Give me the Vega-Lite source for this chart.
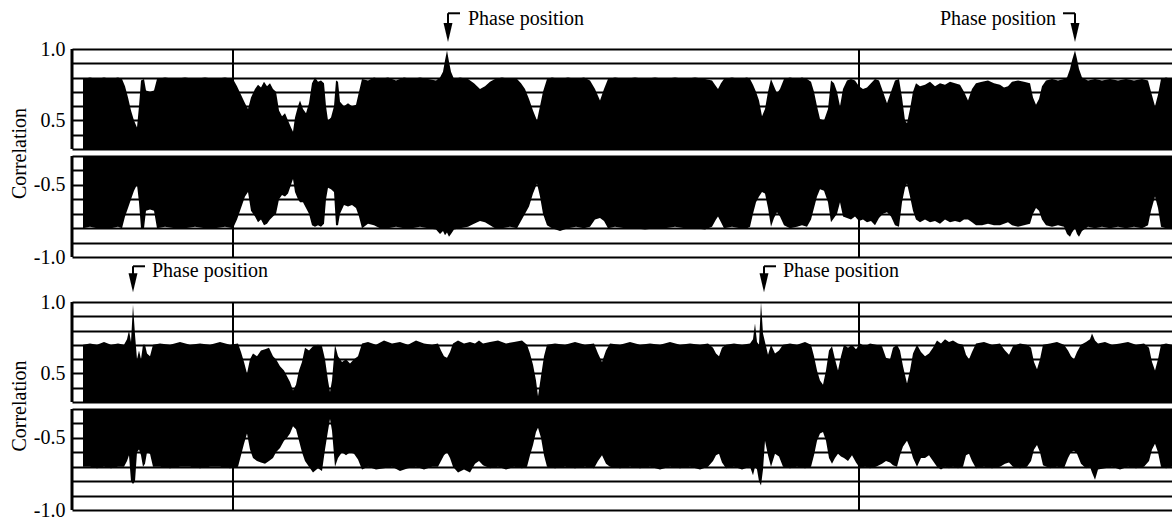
{
  "$schema": "https://vega.github.io/schema/vega-lite/v6.json",
  "padding": {"left": 9, "top": 9, "right": 0, "bottom": 0},
  "background": "white",
  "config": {
    "view": {"stroke": null},
    "font": "Liberation Serif",
    "axis": {
      "labelFont": "Liberation Serif", "labelFontSize": 20, "labelColor": "black", "labelPadding": 7, "labelOverlap": false,
      "grid": true, "gridColor": "black", "gridWidth": 1.8, "gridOpacity": 1,
      "ticks": false, "domain": false,
      "titleFont": "Liberation Serif", "titleFontSize": 20, "titleFontWeight": "normal", "titleColor": "black"
    }
  },
  "datasets": {
    "sig": [
      {"panel":"A","t":83,"hi":0.79,"lo":-0.80},{"panel":"A","t":90,"hi":0.80,"lo":-0.79},{"panel":"A","t":97,"hi":0.79,"lo":-0.80},{"panel":"A","t":104,"hi":0.80,"lo":-0.80},{"panel":"A","t":111,"hi":0.79,"lo":-0.80},{"panel":"A","t":118,"hi":0.80,"lo":-0.79},{"panel":"A","t":122,"hi":0.79,"lo":-0.80},{"panel":"A","t":125,"hi":0.74,"lo":-0.72},{"panel":"A","t":128,"hi":0.66,"lo":-0.66},{"panel":"A","t":131,"hi":0.57,"lo":-0.60},{"panel":"A","t":134,"hi":0.50,"lo":-0.54},{"panel":"A","t":137,"hi":0.45,"lo":-0.50},{"panel":"A","t":139,"hi":0.60,"lo":-0.62},{"panel":"A","t":141,"hi":0.78,"lo":-0.80},{"panel":"A","t":144,"hi":0.79,"lo":-0.80},{"panel":"A","t":146,"hi":0.71,"lo":-0.68},{"panel":"A","t":150,"hi":0.70,"lo":-0.67},{"panel":"A","t":154,"hi":0.71,"lo":-0.68},{"panel":"A","t":157,"hi":0.79,"lo":-0.80},{"panel":"A","t":165,"hi":0.80,"lo":-0.79},{"panel":"A","t":175,"hi":0.79,"lo":-0.80},{"panel":"A","t":185,"hi":0.80,"lo":-0.80},{"panel":"A","t":195,"hi":0.79,"lo":-0.79},{"panel":"A","t":205,"hi":0.80,"lo":-0.80},{"panel":"A","t":215,"hi":0.79,"lo":-0.80},{"panel":"A","t":225,"hi":0.80,"lo":-0.79},{"panel":"A","t":233,"hi":0.79,"lo":-0.80},{"panel":"A","t":237,"hi":0.74,"lo":-0.74},{"panel":"A","t":241,"hi":0.68,"lo":-0.66},{"panel":"A","t":245,"hi":0.62,"lo":-0.58},{"panel":"A","t":248,"hi":0.58,"lo":-0.55},{"panel":"A","t":251,"hi":0.66,"lo":-0.68},{"panel":"A","t":255,"hi":0.72,"lo":-0.72},{"panel":"A","t":258,"hi":0.75,"lo":-0.76},{"panel":"A","t":261,"hi":0.73,"lo":-0.74},{"panel":"A","t":264,"hi":0.77,"lo":-0.78},{"panel":"A","t":267,"hi":0.74,"lo":-0.77},{"panel":"A","t":270,"hi":0.76,"lo":-0.74},{"panel":"A","t":273,"hi":0.72,"lo":-0.72},{"panel":"A","t":276,"hi":0.70,"lo":-0.70},{"panel":"A","t":279,"hi":0.57,"lo":-0.60},{"panel":"A","t":282,"hi":0.53,"lo":-0.57},{"panel":"A","t":285,"hi":0.55,"lo":-0.58},{"panel":"A","t":288,"hi":0.50,"lo":-0.56},{"panel":"A","t":291,"hi":0.45,"lo":-0.50},{"panel":"A","t":293,"hi":0.42,"lo":-0.46},{"panel":"A","t":295,"hi":0.52,"lo":-0.55},{"panel":"A","t":298,"hi":0.60,"lo":-0.60},{"panel":"A","t":300,"hi":0.64,"lo":-0.62},{"panel":"A","t":303,"hi":0.58,"lo":-0.62},{"panel":"A","t":306,"hi":0.55,"lo":-0.66},{"panel":"A","t":309,"hi":0.62,"lo":-0.70},{"panel":"A","t":312,"hi":0.76,"lo":-0.78},{"panel":"A","t":315,"hi":0.80,"lo":-0.79},{"panel":"A","t":318,"hi":0.77,"lo":-0.78},{"panel":"A","t":321,"hi":0.78,"lo":-0.79},{"panel":"A","t":324,"hi":0.76,"lo":-0.77},{"panel":"A","t":326,"hi":0.60,"lo":-0.60},{"panel":"A","t":328,"hi":0.50,"lo":-0.52},{"panel":"A","t":331,"hi":0.52,"lo":-0.53},{"panel":"A","t":334,"hi":0.60,"lo":-0.55},{"panel":"A","t":336,"hi":0.78,"lo":-0.78},{"panel":"A","t":338,"hi":0.77,"lo":-0.78},{"panel":"A","t":340,"hi":0.63,"lo":-0.70},{"panel":"A","t":344,"hi":0.60,"lo":-0.64},{"panel":"A","t":348,"hi":0.62,"lo":-0.65},{"panel":"A","t":352,"hi":0.60,"lo":-0.64},{"panel":"A","t":356,"hi":0.61,"lo":-0.66},{"panel":"A","t":359,"hi":0.70,"lo":-0.72},{"panel":"A","t":362,"hi":0.79,"lo":-0.80},{"panel":"A","t":368,"hi":0.78,"lo":-0.77},{"panel":"A","t":374,"hi":0.80,"lo":-0.78},{"panel":"A","t":380,"hi":0.79,"lo":-0.80},{"panel":"A","t":388,"hi":0.80,"lo":-0.80},{"panel":"A","t":396,"hi":0.78,"lo":-0.79},{"panel":"A","t":404,"hi":0.80,"lo":-0.80},{"panel":"A","t":412,"hi":0.79,"lo":-0.80},{"panel":"A","t":420,"hi":0.80,"lo":-0.79},{"panel":"A","t":428,"hi":0.79,"lo":-0.80},{"panel":"A","t":436,"hi":0.78,"lo":-0.81},{"panel":"A","t":440,"hi":0.80,"lo":-0.84},{"panel":"A","t":443,"hi":0.84,"lo":-0.82},{"panel":"A","t":445,"hi":0.92,"lo":-0.85},{"panel":"A","t":447,"hi":0.99,"lo":-0.83},{"panel":"A","t":449,"hi":0.91,"lo":-0.86},{"panel":"A","t":451,"hi":0.84,"lo":-0.84},{"panel":"A","t":454,"hi":0.79,"lo":-0.81},{"panel":"A","t":460,"hi":0.80,"lo":-0.80},{"panel":"A","t":468,"hi":0.79,"lo":-0.79},{"panel":"A","t":474,"hi":0.76,"lo":-0.77},{"panel":"A","t":480,"hi":0.72,"lo":-0.75},{"panel":"A","t":485,"hi":0.74,"lo":-0.76},{"panel":"A","t":490,"hi":0.77,"lo":-0.78},{"panel":"A","t":495,"hi":0.79,"lo":-0.80},{"panel":"A","t":502,"hi":0.80,"lo":-0.80},{"panel":"A","t":510,"hi":0.79,"lo":-0.79},{"panel":"A","t":517,"hi":0.79,"lo":-0.80},{"panel":"A","t":521,"hi":0.76,"lo":-0.75},{"panel":"A","t":525,"hi":0.72,"lo":-0.70},{"panel":"A","t":529,"hi":0.65,"lo":-0.65},{"panel":"A","t":533,"hi":0.57,"lo":-0.56},{"panel":"A","t":537,"hi":0.50,"lo":-0.49},{"panel":"A","t":540,"hi":0.60,"lo":-0.58},{"panel":"A","t":543,"hi":0.70,"lo":-0.70},{"panel":"A","t":547,"hi":0.79,"lo":-0.78},{"panel":"A","t":552,"hi":0.80,"lo":-0.80},{"panel":"A","t":560,"hi":0.79,"lo":-0.82},{"panel":"A","t":568,"hi":0.80,"lo":-0.80},{"panel":"A","t":576,"hi":0.79,"lo":-0.79},{"panel":"A","t":584,"hi":0.80,"lo":-0.80},{"panel":"A","t":590,"hi":0.78,"lo":-0.79},{"panel":"A","t":595,"hi":0.72,"lo":-0.74},{"panel":"A","t":600,"hi":0.64,"lo":-0.73},{"panel":"A","t":604,"hi":0.72,"lo":-0.75},{"panel":"A","t":608,"hi":0.79,"lo":-0.80},{"panel":"A","t":615,"hi":0.80,"lo":-0.79},{"panel":"A","t":625,"hi":0.79,"lo":-0.80},{"panel":"A","t":635,"hi":0.80,"lo":-0.80},{"panel":"A","t":645,"hi":0.79,"lo":-0.81},{"panel":"A","t":655,"hi":0.80,"lo":-0.80},{"panel":"A","t":665,"hi":0.79,"lo":-0.80},{"panel":"A","t":675,"hi":0.80,"lo":-0.79},{"panel":"A","t":685,"hi":0.79,"lo":-0.80},{"panel":"A","t":695,"hi":0.80,"lo":-0.80},{"panel":"A","t":705,"hi":0.79,"lo":-0.81},{"panel":"A","t":712,"hi":0.78,"lo":-0.79},{"panel":"A","t":716,"hi":0.74,"lo":-0.74},{"panel":"A","t":718,"hi":0.72,"lo":-0.72},{"panel":"A","t":721,"hi":0.76,"lo":-0.76},{"panel":"A","t":724,"hi":0.79,"lo":-0.80},{"panel":"A","t":732,"hi":0.80,"lo":-0.79},{"panel":"A","t":740,"hi":0.79,"lo":-0.80},{"panel":"A","t":747,"hi":0.80,"lo":-0.80},{"panel":"A","t":750,"hi":0.79,"lo":-0.79},{"panel":"A","t":753,"hi":0.75,"lo":-0.70},{"panel":"A","t":756,"hi":0.70,"lo":-0.62},{"panel":"A","t":759,"hi":0.64,"lo":-0.58},{"panel":"A","t":762,"hi":0.53,"lo":-0.55},{"panel":"A","t":765,"hi":0.58,"lo":-0.56},{"panel":"A","t":768,"hi":0.70,"lo":-0.66},{"panel":"A","t":771,"hi":0.79,"lo":-0.79},{"panel":"A","t":774,"hi":0.74,"lo":-0.73},{"panel":"A","t":777,"hi":0.69,"lo":-0.69},{"panel":"A","t":780,"hi":0.72,"lo":-0.72},{"panel":"A","t":784,"hi":0.79,"lo":-0.78},{"panel":"A","t":790,"hi":0.80,"lo":-0.80},{"panel":"A","t":797,"hi":0.79,"lo":-0.79},{"panel":"A","t":802,"hi":0.80,"lo":-0.78},{"panel":"A","t":807,"hi":0.79,"lo":-0.79},{"panel":"A","t":811,"hi":0.77,"lo":-0.74},{"panel":"A","t":814,"hi":0.70,"lo":-0.66},{"panel":"A","t":817,"hi":0.60,"lo":-0.58},{"panel":"A","t":820,"hi":0.51,"lo":-0.53},{"panel":"A","t":824,"hi":0.50,"lo":-0.54},{"panel":"A","t":828,"hi":0.58,"lo":-0.62},{"panel":"A","t":831,"hi":0.78,"lo":-0.76},{"panel":"A","t":834,"hi":0.76,"lo":-0.73},{"panel":"A","t":837,"hi":0.70,"lo":-0.70},{"panel":"A","t":840,"hi":0.60,"lo":-0.62},{"panel":"A","t":843,"hi":0.72,"lo":-0.72},{"panel":"A","t":847,"hi":0.78,"lo":-0.73},{"panel":"A","t":851,"hi":0.79,"lo":-0.74},{"panel":"A","t":855,"hi":0.78,"lo":-0.72},{"panel":"A","t":859,"hi":0.74,"lo":-0.75},{"panel":"A","t":863,"hi":0.72,"lo":-0.74},{"panel":"A","t":867,"hi":0.73,"lo":-0.76},{"panel":"A","t":871,"hi":0.76,"lo":-0.75},{"panel":"A","t":875,"hi":0.79,"lo":-0.78},{"panel":"A","t":879,"hi":0.78,"lo":-0.73},{"panel":"A","t":883,"hi":0.70,"lo":-0.70},{"panel":"A","t":887,"hi":0.62,"lo":-0.69},{"panel":"A","t":891,"hi":0.70,"lo":-0.72},{"panel":"A","t":895,"hi":0.78,"lo":-0.78},{"panel":"A","t":899,"hi":0.79,"lo":-0.79},{"panel":"A","t":902,"hi":0.66,"lo":-0.62},{"panel":"A","t":905,"hi":0.50,"lo":-0.52},{"panel":"A","t":907,"hi":0.48,"lo":-0.49},{"panel":"A","t":910,"hi":0.58,"lo":-0.58},{"panel":"A","t":913,"hi":0.70,"lo":-0.68},{"panel":"A","t":916,"hi":0.76,"lo":-0.74},{"panel":"A","t":920,"hi":0.74,"lo":-0.76},{"panel":"A","t":925,"hi":0.75,"lo":-0.74},{"panel":"A","t":930,"hi":0.77,"lo":-0.76},{"panel":"A","t":935,"hi":0.74,"lo":-0.75},{"panel":"A","t":940,"hi":0.76,"lo":-0.77},{"panel":"A","t":945,"hi":0.75,"lo":-0.74},{"panel":"A","t":950,"hi":0.77,"lo":-0.76},{"panel":"A","t":955,"hi":0.76,"lo":-0.75},{"panel":"A","t":960,"hi":0.75,"lo":-0.76},{"panel":"A","t":964,"hi":0.70,"lo":-0.74},{"panel":"A","t":968,"hi":0.64,"lo":-0.74},{"panel":"A","t":972,"hi":0.72,"lo":-0.76},{"panel":"A","t":976,"hi":0.76,"lo":-0.78},{"panel":"A","t":982,"hi":0.77,"lo":-0.78},{"panel":"A","t":988,"hi":0.78,"lo":-0.77},{"panel":"A","t":994,"hi":0.76,"lo":-0.78},{"panel":"A","t":1000,"hi":0.75,"lo":-0.78},{"panel":"A","t":1004,"hi":0.73,"lo":-0.77},{"panel":"A","t":1008,"hi":0.74,"lo":-0.76},{"panel":"A","t":1012,"hi":0.77,"lo":-0.78},{"panel":"A","t":1018,"hi":0.78,"lo":-0.79},{"panel":"A","t":1024,"hi":0.77,"lo":-0.78},{"panel":"A","t":1030,"hi":0.76,"lo":-0.77},{"panel":"A","t":1033,"hi":0.66,"lo":-0.70},{"panel":"A","t":1036,"hi":0.61,"lo":-0.66},{"panel":"A","t":1039,"hi":0.65,"lo":-0.68},{"panel":"A","t":1042,"hi":0.74,"lo":-0.74},{"panel":"A","t":1046,"hi":0.78,"lo":-0.78},{"panel":"A","t":1052,"hi":0.79,"lo":-0.79},{"panel":"A","t":1058,"hi":0.78,"lo":-0.78},{"panel":"A","t":1064,"hi":0.79,"lo":-0.79},{"panel":"A","t":1067,"hi":0.80,"lo":-0.84},{"panel":"A","t":1070,"hi":0.86,"lo":-0.86},{"panel":"A","t":1072,"hi":0.92,"lo":-0.83},{"panel":"A","t":1075,"hi":0.99,"lo":-0.80},{"panel":"A","t":1077,"hi":0.93,"lo":-0.84},{"panel":"A","t":1079,"hi":0.86,"lo":-0.86},{"panel":"A","t":1082,"hi":0.80,"lo":-0.82},{"panel":"A","t":1088,"hi":0.78,"lo":-0.79},{"panel":"A","t":1095,"hi":0.79,"lo":-0.80},{"panel":"A","t":1102,"hi":0.78,"lo":-0.79},{"panel":"A","t":1110,"hi":0.79,"lo":-0.80},{"panel":"A","t":1118,"hi":0.78,"lo":-0.79},{"panel":"A","t":1126,"hi":0.79,"lo":-0.80},{"panel":"A","t":1134,"hi":0.78,"lo":-0.79},{"panel":"A","t":1142,"hi":0.79,"lo":-0.80},{"panel":"A","t":1148,"hi":0.78,"lo":-0.78},{"panel":"A","t":1151,"hi":0.70,"lo":-0.68},{"panel":"A","t":1155,"hi":0.60,"lo":-0.58},{"panel":"A","t":1158,"hi":0.68,"lo":-0.66},{"panel":"A","t":1161,"hi":0.79,"lo":-0.79},{"panel":"A","t":1166,"hi":0.80,"lo":-0.80},{"panel":"A","t":1172,"hi":0.79,"lo":-0.80},

      {"panel":"B","t":83,"hi":0.70,"lo":-0.70},{"panel":"B","t":90,"hi":0.71,"lo":-0.70},{"panel":"B","t":97,"hi":0.70,"lo":-0.71},{"panel":"B","t":104,"hi":0.72,"lo":-0.70},{"panel":"B","t":111,"hi":0.70,"lo":-0.71},{"panel":"B","t":118,"hi":0.71,"lo":-0.70},{"panel":"B","t":124,"hi":0.70,"lo":-0.70},{"panel":"B","t":127,"hi":0.74,"lo":-0.66},{"panel":"B","t":129,"hi":0.80,"lo":-0.62},{"panel":"B","t":131,"hi":0.72,"lo":-0.80},{"panel":"B","t":133,"hi":0.98,"lo":-0.82},{"panel":"B","t":135,"hi":0.77,"lo":-0.80},{"panel":"B","t":137,"hi":0.60,"lo":-0.60},{"panel":"B","t":139,"hi":0.66,"lo":-0.58},{"panel":"B","t":141,"hi":0.60,"lo":-0.62},{"panel":"B","t":143,"hi":0.70,"lo":-0.70},{"panel":"B","t":145,"hi":0.70,"lo":-0.68},{"panel":"B","t":147,"hi":0.64,"lo":-0.60},{"panel":"B","t":150,"hi":0.62,"lo":-0.61},{"panel":"B","t":153,"hi":0.70,"lo":-0.70},{"panel":"B","t":160,"hi":0.71,"lo":-0.70},{"panel":"B","t":170,"hi":0.70,"lo":-0.71},{"panel":"B","t":180,"hi":0.72,"lo":-0.70},{"panel":"B","t":190,"hi":0.70,"lo":-0.70},{"panel":"B","t":200,"hi":0.71,"lo":-0.71},{"panel":"B","t":210,"hi":0.70,"lo":-0.70},{"panel":"B","t":220,"hi":0.72,"lo":-0.70},{"panel":"B","t":230,"hi":0.70,"lo":-0.71},{"panel":"B","t":238,"hi":0.71,"lo":-0.70},{"panel":"B","t":241,"hi":0.65,"lo":-0.62},{"panel":"B","t":244,"hi":0.58,"lo":-0.54},{"panel":"B","t":247,"hi":0.50,"lo":-0.47},{"panel":"B","t":250,"hi":0.60,"lo":-0.58},{"panel":"B","t":253,"hi":0.64,"lo":-0.64},{"panel":"B","t":257,"hi":0.62,"lo":-0.66},{"panel":"B","t":261,"hi":0.66,"lo":-0.67},{"panel":"B","t":265,"hi":0.67,"lo":-0.68},{"panel":"B","t":269,"hi":0.68,"lo":-0.66},{"panel":"B","t":273,"hi":0.62,"lo":-0.64},{"panel":"B","t":276,"hi":0.60,"lo":-0.60},{"panel":"B","t":280,"hi":0.55,"lo":-0.57},{"panel":"B","t":284,"hi":0.52,"lo":-0.52},{"panel":"B","t":287,"hi":0.48,"lo":-0.50},{"panel":"B","t":290,"hi":0.44,"lo":-0.47},{"panel":"B","t":293,"hi":0.38,"lo":-0.42},{"panel":"B","t":296,"hi":0.42,"lo":-0.44},{"panel":"B","t":299,"hi":0.52,"lo":-0.52},{"panel":"B","t":302,"hi":0.58,"lo":-0.60},{"panel":"B","t":305,"hi":0.68,"lo":-0.66},{"panel":"B","t":309,"hi":0.66,"lo":-0.70},{"panel":"B","t":313,"hi":0.69,"lo":-0.74},{"panel":"B","t":318,"hi":0.70,"lo":-0.71},{"panel":"B","t":322,"hi":0.69,"lo":-0.73},{"panel":"B","t":325,"hi":0.60,"lo":-0.58},{"panel":"B","t":328,"hi":0.45,"lo":-0.45},{"panel":"B","t":330,"hi":0.37,"lo":-0.37},{"panel":"B","t":332,"hi":0.45,"lo":-0.45},{"panel":"B","t":335,"hi":0.70,"lo":-0.70},{"panel":"B","t":338,"hi":0.62,"lo":-0.64},{"panel":"B","t":342,"hi":0.58,"lo":-0.60},{"panel":"B","t":346,"hi":0.60,"lo":-0.62},{"panel":"B","t":350,"hi":0.57,"lo":-0.60},{"panel":"B","t":354,"hi":0.60,"lo":-0.61},{"panel":"B","t":358,"hi":0.62,"lo":-0.65},{"panel":"B","t":362,"hi":0.71,"lo":-0.72},{"panel":"B","t":368,"hi":0.72,"lo":-0.70},{"panel":"B","t":376,"hi":0.70,"lo":-0.72},{"panel":"B","t":384,"hi":0.73,"lo":-0.71},{"panel":"B","t":392,"hi":0.71,"lo":-0.70},{"panel":"B","t":400,"hi":0.72,"lo":-0.73},{"panel":"B","t":408,"hi":0.70,"lo":-0.71},{"panel":"B","t":416,"hi":0.73,"lo":-0.70},{"panel":"B","t":424,"hi":0.71,"lo":-0.72},{"panel":"B","t":432,"hi":0.70,"lo":-0.70},{"panel":"B","t":438,"hi":0.71,"lo":-0.70},{"panel":"B","t":441,"hi":0.66,"lo":-0.66},{"panel":"B","t":444,"hi":0.62,"lo":-0.62},{"panel":"B","t":447,"hi":0.61,"lo":-0.60},{"panel":"B","t":450,"hi":0.65,"lo":-0.64},{"panel":"B","t":453,"hi":0.71,"lo":-0.70},{"panel":"B","t":458,"hi":0.73,"lo":-0.74},{"panel":"B","t":464,"hi":0.71,"lo":-0.72},{"panel":"B","t":470,"hi":0.72,"lo":-0.74},{"panel":"B","t":475,"hi":0.71,"lo":-0.68},{"panel":"B","t":479,"hi":0.73,"lo":-0.66},{"panel":"B","t":483,"hi":0.71,"lo":-0.69},{"panel":"B","t":490,"hi":0.72,"lo":-0.71},{"panel":"B","t":498,"hi":0.73,"lo":-0.70},{"panel":"B","t":506,"hi":0.71,"lo":-0.72},{"panel":"B","t":514,"hi":0.72,"lo":-0.70},{"panel":"B","t":522,"hi":0.73,"lo":-0.71},{"panel":"B","t":527,"hi":0.70,"lo":-0.70},{"panel":"B","t":530,"hi":0.64,"lo":-0.62},{"panel":"B","t":533,"hi":0.56,"lo":-0.55},{"panel":"B","t":536,"hi":0.45,"lo":-0.46},{"panel":"B","t":538,"hi":0.34,"lo":-0.43},{"panel":"B","t":541,"hi":0.48,"lo":-0.50},{"panel":"B","t":544,"hi":0.62,"lo":-0.62},{"panel":"B","t":547,"hi":0.70,"lo":-0.70},{"panel":"B","t":555,"hi":0.71,"lo":-0.71},{"panel":"B","t":565,"hi":0.70,"lo":-0.70},{"panel":"B","t":575,"hi":0.72,"lo":-0.71},{"panel":"B","t":585,"hi":0.70,"lo":-0.70},{"panel":"B","t":594,"hi":0.71,"lo":-0.71},{"panel":"B","t":598,"hi":0.64,"lo":-0.66},{"panel":"B","t":602,"hi":0.58,"lo":-0.62},{"panel":"B","t":606,"hi":0.66,"lo":-0.68},{"panel":"B","t":610,"hi":0.71,"lo":-0.70},{"panel":"B","t":620,"hi":0.70,"lo":-0.71},{"panel":"B","t":630,"hi":0.72,"lo":-0.70},{"panel":"B","t":640,"hi":0.70,"lo":-0.71},{"panel":"B","t":650,"hi":0.71,"lo":-0.70},{"panel":"B","t":660,"hi":0.70,"lo":-0.72},{"panel":"B","t":670,"hi":0.72,"lo":-0.70},{"panel":"B","t":680,"hi":0.70,"lo":-0.71},{"panel":"B","t":690,"hi":0.71,"lo":-0.70},{"panel":"B","t":700,"hi":0.70,"lo":-0.72},{"panel":"B","t":708,"hi":0.71,"lo":-0.70},{"panel":"B","t":713,"hi":0.68,"lo":-0.66},{"panel":"B","t":716,"hi":0.64,"lo":-0.62},{"panel":"B","t":719,"hi":0.62,"lo":-0.61},{"panel":"B","t":722,"hi":0.68,"lo":-0.67},{"panel":"B","t":726,"hi":0.70,"lo":-0.71},{"panel":"B","t":734,"hi":0.71,"lo":-0.70},{"panel":"B","t":742,"hi":0.70,"lo":-0.72},{"panel":"B","t":750,"hi":0.71,"lo":-0.70},{"panel":"B","t":753,"hi":0.74,"lo":-0.76},{"panel":"B","t":755,"hi":0.85,"lo":-0.70},{"panel":"B","t":757,"hi":0.72,"lo":-0.72},{"panel":"B","t":759,"hi":0.70,"lo":-0.80},{"panel":"B","t":761,"hi":1.00,"lo":-0.83},{"panel":"B","t":763,"hi":0.78,"lo":-0.72},{"panel":"B","t":765,"hi":0.72,"lo":-0.52},{"panel":"B","t":768,"hi":0.63,"lo":-0.62},{"panel":"B","t":771,"hi":0.70,"lo":-0.70},{"panel":"B","t":775,"hi":0.64,"lo":-0.61},{"panel":"B","t":779,"hi":0.66,"lo":-0.63},{"panel":"B","t":783,"hi":0.70,"lo":-0.70},{"panel":"B","t":790,"hi":0.71,"lo":-0.71},{"panel":"B","t":797,"hi":0.70,"lo":-0.70},{"panel":"B","t":805,"hi":0.72,"lo":-0.71},{"panel":"B","t":811,"hi":0.70,"lo":-0.70},{"panel":"B","t":814,"hi":0.62,"lo":-0.62},{"panel":"B","t":817,"hi":0.52,"lo":-0.52},{"panel":"B","t":820,"hi":0.45,"lo":-0.47},{"panel":"B","t":823,"hi":0.42,"lo":-0.46},{"panel":"B","t":826,"hi":0.52,"lo":-0.52},{"panel":"B","t":829,"hi":0.66,"lo":-0.64},{"panel":"B","t":832,"hi":0.69,"lo":-0.68},{"panel":"B","t":835,"hi":0.60,"lo":-0.64},{"panel":"B","t":838,"hi":0.52,"lo":-0.61},{"panel":"B","t":841,"hi":0.62,"lo":-0.63},{"panel":"B","t":844,"hi":0.70,"lo":-0.64},{"panel":"B","t":848,"hi":0.68,"lo":-0.66},{"panel":"B","t":852,"hi":0.70,"lo":-0.62},{"panel":"B","t":856,"hi":0.67,"lo":-0.67},{"panel":"B","t":860,"hi":0.71,"lo":-0.71},{"panel":"B","t":865,"hi":0.69,"lo":-0.70},{"panel":"B","t":870,"hi":0.71,"lo":-0.71},{"panel":"B","t":876,"hi":0.70,"lo":-0.70},{"panel":"B","t":882,"hi":0.69,"lo":-0.68},{"panel":"B","t":886,"hi":0.61,"lo":-0.66},{"panel":"B","t":890,"hi":0.60,"lo":-0.67},{"panel":"B","t":893,"hi":0.68,"lo":-0.69},{"panel":"B","t":897,"hi":0.70,"lo":-0.70},{"panel":"B","t":900,"hi":0.66,"lo":-0.62},{"panel":"B","t":903,"hi":0.55,"lo":-0.56},{"panel":"B","t":907,"hi":0.43,"lo":-0.52},{"panel":"B","t":910,"hi":0.52,"lo":-0.57},{"panel":"B","t":913,"hi":0.64,"lo":-0.64},{"panel":"B","t":917,"hi":0.70,"lo":-0.70},{"panel":"B","t":921,"hi":0.65,"lo":-0.64},{"panel":"B","t":925,"hi":0.62,"lo":-0.64},{"panel":"B","t":929,"hi":0.64,"lo":-0.62},{"panel":"B","t":933,"hi":0.68,"lo":-0.66},{"panel":"B","t":937,"hi":0.73,"lo":-0.70},{"panel":"B","t":941,"hi":0.71,"lo":-0.72},{"panel":"B","t":945,"hi":0.74,"lo":-0.70},{"panel":"B","t":949,"hi":0.72,"lo":-0.71},{"panel":"B","t":953,"hi":0.73,"lo":-0.70},{"panel":"B","t":958,"hi":0.71,"lo":-0.71},{"panel":"B","t":963,"hi":0.70,"lo":-0.70},{"panel":"B","t":966,"hi":0.63,"lo":-0.62},{"panel":"B","t":969,"hi":0.60,"lo":-0.61},{"panel":"B","t":972,"hi":0.65,"lo":-0.66},{"panel":"B","t":976,"hi":0.71,"lo":-0.71},{"panel":"B","t":984,"hi":0.72,"lo":-0.70},{"panel":"B","t":992,"hi":0.70,"lo":-0.71},{"panel":"B","t":1000,"hi":0.71,"lo":-0.70},{"panel":"B","t":1005,"hi":0.66,"lo":-0.68},{"panel":"B","t":1009,"hi":0.63,"lo":-0.67},{"panel":"B","t":1013,"hi":0.69,"lo":-0.70},{"panel":"B","t":1020,"hi":0.71,"lo":-0.71},{"panel":"B","t":1027,"hi":0.70,"lo":-0.70},{"panel":"B","t":1031,"hi":0.68,"lo":-0.66},{"panel":"B","t":1034,"hi":0.58,"lo":-0.58},{"panel":"B","t":1037,"hi":0.53,"lo":-0.55},{"panel":"B","t":1040,"hi":0.60,"lo":-0.60},{"panel":"B","t":1043,"hi":0.70,"lo":-0.69},{"panel":"B","t":1050,"hi":0.71,"lo":-0.71},{"panel":"B","t":1057,"hi":0.72,"lo":-0.70},{"panel":"B","t":1064,"hi":0.70,"lo":-0.71},{"panel":"B","t":1068,"hi":0.66,"lo":-0.64},{"panel":"B","t":1071,"hi":0.62,"lo":-0.60},{"panel":"B","t":1074,"hi":0.60,"lo":-0.59},{"panel":"B","t":1077,"hi":0.65,"lo":-0.61},{"panel":"B","t":1081,"hi":0.70,"lo":-0.68},{"panel":"B","t":1086,"hi":0.72,"lo":-0.71},{"panel":"B","t":1090,"hi":0.74,"lo":-0.70},{"panel":"B","t":1092,"hi":0.78,"lo":-0.74},{"panel":"B","t":1095,"hi":0.73,"lo":-0.79},{"panel":"B","t":1098,"hi":0.71,"lo":-0.72},{"panel":"B","t":1105,"hi":0.72,"lo":-0.71},{"panel":"B","t":1112,"hi":0.70,"lo":-0.70},{"panel":"B","t":1120,"hi":0.71,"lo":-0.72},{"panel":"B","t":1128,"hi":0.72,"lo":-0.70},{"panel":"B","t":1136,"hi":0.70,"lo":-0.71},{"panel":"B","t":1144,"hi":0.71,"lo":-0.70},{"panel":"B","t":1149,"hi":0.68,"lo":-0.66},{"panel":"B","t":1152,"hi":0.58,"lo":-0.58},{"panel":"B","t":1155,"hi":0.52,"lo":-0.54},{"panel":"B","t":1158,"hi":0.60,"lo":-0.60},{"panel":"B","t":1161,"hi":0.70,"lo":-0.70},{"panel":"B","t":1166,"hi":0.71,"lo":-0.71},{"panel":"B","t":1172,"hi":0.70,"lo":-0.70}
    ],
    "frames": [{"t": 233}, {"t": 859}],
    "ann": [
      {"panel": "A", "t": 448, "tb": 460, "tx": 468, "label": "Phase position"},
      {"panel": "A", "t": 1075, "tb": 1063, "tx": 940, "label": "Phase position"},
      {"panel": "B", "t": 133, "tb": 145, "tx": 152, "label": "Phase position"},
      {"panel": "B", "t": 764, "tb": 776, "tx": 783, "label": "Phase position"}
    ]
  },
  "spacing": 7,
  "bounds": "flush",
  "vconcat": [
    {
      "width": 1100, "height": 100,
      "layer": [
        {
          "data": {"name": "sig"},
          "transform": [{"filter": "datum.panel === 'A'"}],
          "mark": {"type": "area", "color": "black", "clip": true},
          "encoding": {
            "x": {"field": "t", "type": "quantitative", "scale": {"domain": [72, 1172], "nice": false, "zero": false}, "axis": null},
            "y": {"field": "hi", "type": "quantitative", "scale": {"domain": [0.3, 1.0], "nice": false, "zero": false},
              "axis": {"values": [0.3, 0.4, 0.5, 0.6, 0.7, 0.8, 0.9, 1.0], "tickCount": 50, "labelExpr": "datum.value == 1 ? '1.0' : datum.value == 0.5 ? '0.5' : ''",
                "title": "Correlation", "titleX": -47, "titleY": 104, "titleAngle": 270, "titleAlign": "center", "titleBaseline": "alphabetic"}},
            "y2": {"datum": 0.3}
          }
        },
        {
          "data": {"name": "frames"},
          "mark": {"type": "rule", "color": "black", "strokeWidth": 2},
          "encoding": {"x": {"field": "t", "type": "quantitative"}}
        },
        {
          "data": {"values": [{"x0": 72}]},
          "mark": {"type": "rule", "color": "black", "strokeWidth": 3, "clip": false},
          "encoding": {"x": {"field": "x0", "type": "quantitative"}, "y": {"datum": 1.0}, "y2": {"datum": 0.3}}
        },
        {
          "data": {"name": "ann"},
          "transform": [{"filter": "datum.panel === 'A'"}],
          "mark": {"type": "rule", "color": "black", "strokeWidth": 2, "clip": false},
          "encoding": {"x": {"field": "t", "type": "quantitative"}, "y": {"datum": 1.25}, "y2": {"datum": 1.12}}
        },
        {
          "data": {"name": "ann"},
          "transform": [{"filter": "datum.panel === 'A'"}],
          "mark": {"type": "rule", "color": "black", "strokeWidth": 2, "clip": false},
          "encoding": {"x": {"field": "t", "type": "quantitative"}, "x2": {"field": "tb"}, "y": {"datum": 1.25}}
        },
        {
          "data": {"name": "ann"},
          "transform": [{"filter": "datum.panel === 'A'"}],
          "mark": {"type": "point", "shape": "M-0.47,-1L0.47,-1L0,1Z", "filled": true, "color": "black", "opacity": 1, "size": 361, "clip": false},
          "encoding": {"x": {"field": "t", "type": "quantitative"}, "y": {"datum": 1.115}}
        },
        {
          "data": {"name": "ann"},
          "transform": [{"filter": "datum.panel === 'A'"}],
          "mark": {"type": "text", "align": "left", "baseline": "alphabetic", "font": "Liberation Serif", "fontSize": 20, "color": "black", "clip": false},
          "encoding": {"x": {"field": "tx", "type": "quantitative"}, "y": {"datum": 1.165}, "text": {"field": "label"}}
        }
      ]
    },
    {
      "width": 1100, "height": 101,
      "layer": [
        {
          "data": {"name": "sig"},
          "transform": [{"filter": "datum.panel === 'A'"}],
          "mark": {"type": "area", "color": "black", "clip": true},
          "encoding": {
            "x": {"field": "t", "type": "quantitative", "scale": {"domain": [72, 1172], "nice": false, "zero": false}, "axis": null},
            "y": {"field": "lo", "type": "quantitative", "scale": {"domain": [-1.0, -0.3], "nice": false, "zero": false},
              "axis": {"values": [-1.0, -0.9, -0.8, -0.7, -0.6, -0.5, -0.4, -0.3], "tickCount": 50, "labelExpr": "datum.value == -1 ? '-1.0' : datum.value == -0.5 ? '-0.5' : ''", "title": null}},
            "y2": {"datum": -0.3}
          }
        },
        {
          "data": {"name": "frames"},
          "mark": {"type": "rule", "color": "black", "strokeWidth": 2},
          "encoding": {"x": {"field": "t", "type": "quantitative"}}
        },
        {
          "data": {"values": [{"x0": 72}]},
          "mark": {"type": "rule", "color": "black", "strokeWidth": 3, "clip": false},
          "encoding": {"x": {"field": "x0", "type": "quantitative"}, "y": {"datum": -0.3}, "y2": {"datum": -1.0}}
        }
      ]
    },
    {
      "width": 1100, "height": 138,
      "layer": [
        {
          "data": {"name": "sig"},
          "transform": [{"filter": "datum.panel === 'B'"}],
          "mark": {"type": "area", "color": "black", "clip": true},
          "encoding": {
            "x": {"field": "t", "type": "quantitative", "scale": {"domain": [72, 1172], "nice": false, "zero": false}, "axis": null},
            "y": {"field": "hi", "type": "quantitative", "scale": {"domain": [0.3, 1.266], "nice": false, "zero": false},
              "axis": {"values": [0.3, 0.4, 0.5, 0.6, 0.7, 0.8, 0.9, 1.0], "tickCount": 50, "labelExpr": "datum.value == 1 ? '1.0' : datum.value == 0.5 ? '0.5' : ''",
                "title": "Correlation", "titleX": -47, "titleY": 141.5, "titleAngle": 270, "titleAlign": "center", "titleBaseline": "alphabetic"}},
            "y2": {"datum": 0.3}
          }
        },
        {
          "data": {"name": "frames"},
          "mark": {"type": "rule", "color": "black", "strokeWidth": 2},
          "encoding": {"x": {"field": "t", "type": "quantitative"}, "y": {"datum": 1.0}, "y2": {"datum": 0.3}}
        },
        {
          "data": {"values": [{"x0": 72}]},
          "mark": {"type": "rule", "color": "black", "strokeWidth": 3, "clip": false},
          "encoding": {"x": {"field": "x0", "type": "quantitative"}, "y": {"datum": 1.0}, "y2": {"datum": 0.3}}
        },
        {
          "data": {"name": "ann"},
          "transform": [{"filter": "datum.panel === 'B'"}],
          "mark": {"type": "rule", "color": "black", "strokeWidth": 2, "clip": false},
          "encoding": {"x": {"field": "t", "type": "quantitative"}, "y": {"datum": 1.25}, "y2": {"datum": 1.12}}
        },
        {
          "data": {"name": "ann"},
          "transform": [{"filter": "datum.panel === 'B'"}],
          "mark": {"type": "rule", "color": "black", "strokeWidth": 2, "clip": false},
          "encoding": {"x": {"field": "t", "type": "quantitative"}, "x2": {"field": "tb"}, "y": {"datum": 1.25}}
        },
        {
          "data": {"name": "ann"},
          "transform": [{"filter": "datum.panel === 'B'"}],
          "mark": {"type": "point", "shape": "M-0.47,-1L0.47,-1L0,1Z", "filled": true, "color": "black", "opacity": 1, "size": 361, "clip": false},
          "encoding": {"x": {"field": "t", "type": "quantitative"}, "y": {"datum": 1.135}}
        },
        {
          "data": {"name": "ann"},
          "transform": [{"filter": "datum.panel === 'B'"}],
          "mark": {"type": "text", "align": "left", "baseline": "alphabetic", "font": "Liberation Serif", "fontSize": 20, "color": "black", "clip": false},
          "encoding": {"x": {"field": "tx", "type": "quantitative"}, "y": {"datum": 1.175}, "text": {"field": "label"}}
        }
      ]
    },
    {
      "width": 1100, "height": 101,
      "layer": [
        {
          "data": {"name": "sig"},
          "transform": [{"filter": "datum.panel === 'B'"}],
          "mark": {"type": "area", "color": "black", "clip": true},
          "encoding": {
            "x": {"field": "t", "type": "quantitative", "scale": {"domain": [72, 1172], "nice": false, "zero": false}, "axis": null},
            "y": {"field": "lo", "type": "quantitative", "scale": {"domain": [-1.0, -0.3], "nice": false, "zero": false},
              "axis": {"values": [-1.0, -0.9, -0.8, -0.7, -0.6, -0.5, -0.4, -0.3], "tickCount": 50, "labelExpr": "datum.value == -1 ? '-1.0' : datum.value == -0.5 ? '-0.5' : ''", "title": null}},
            "y2": {"datum": -0.3}
          }
        },
        {
          "data": {"name": "frames"},
          "mark": {"type": "rule", "color": "black", "strokeWidth": 2},
          "encoding": {"x": {"field": "t", "type": "quantitative"}}
        },
        {
          "data": {"values": [{"x0": 72}]},
          "mark": {"type": "rule", "color": "black", "strokeWidth": 3, "clip": false},
          "encoding": {"x": {"field": "x0", "type": "quantitative"}, "y": {"datum": -0.3}, "y2": {"datum": -1.0}}
        }
      ]
    }
  ]
}
